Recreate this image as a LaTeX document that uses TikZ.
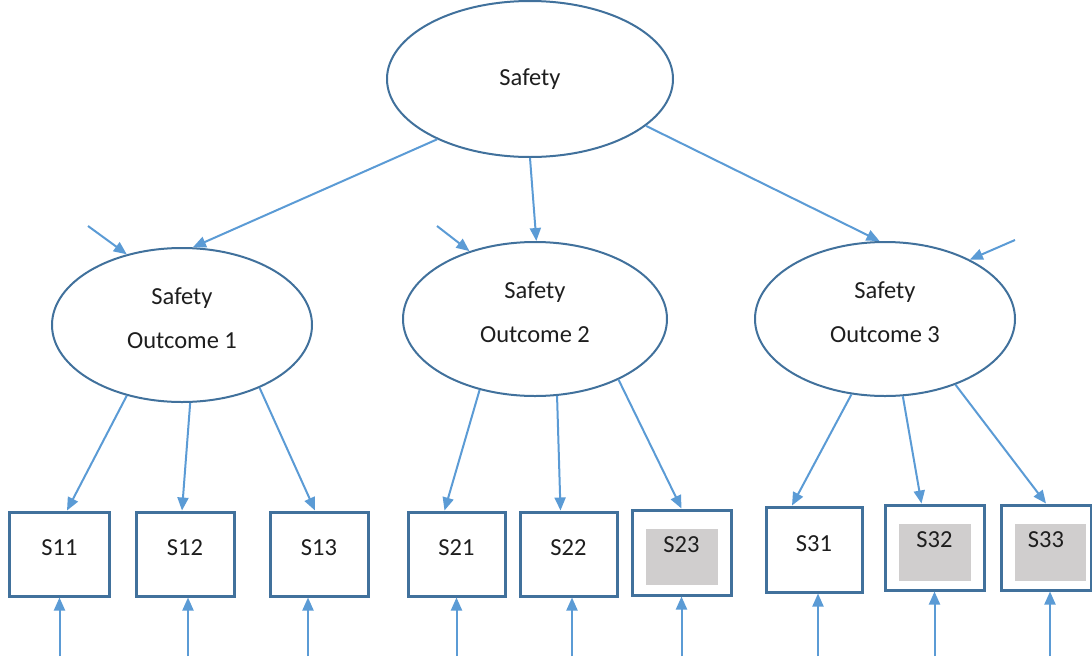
\documentclass[tikz,border=0pt]{standalone}
\usepackage{fontspec}
\setmainfont{Carlito}
\usetikzlibrary{shapes.geometric,arrows.meta,calc}
\definecolor{ellc}{HTML}{41719C}
\definecolor{arrc}{HTML}{5B9BD5}
\definecolor{boxc}{HTML}{41719C}
\definecolor{grayc}{HTML}{D0CECE}
\definecolor{txtc}{HTML}{1E1E1E}
\begin{document}
\begin{tikzpicture}[x=1pt,y=-1pt,
  latent/.style={ellipse,draw=ellc,line width=2pt,inner sep=0pt,align=center,text=txtc,font=\fontsize{24.5}{44}\selectfont},
  outcome/.style={latent,text depth=13pt},
  obs/.style={rectangle,draw=boxc,line width=3pt,inner sep=0pt,minimum height=84pt,text height=16pt,text depth=13pt,text=txtc,font=\fontsize{24.5}{28}\selectfont},
  link/.style={draw=arrc,line width=2pt,-{Triangle[length=13pt,width=11pt]}},
  shade/.style={fill=grayc}]
\useasboundingbox (0,0) rectangle (1092,656);

% latent variables
\node[latent,minimum width=286pt,minimum height=156pt] (top) at (530,79) {Safety};
\node[outcome,minimum width=260pt,minimum height=154pt] (o1) at (182,325) {Safety\\Outcome 1};
\node[outcome,minimum width=264pt,minimum height=154pt] (o2) at (535,319) {Safety\\Outcome 2};
\node[outcome,minimum width=260pt,minimum height=154pt] (o3) at (885,319) {Safety\\Outcome 3};

% gray fills
\fill[shade] (646,529) rectangle (718,585);
\fill[shade] (899,524) rectangle (971,581);
\fill[shade] (1015,524) rectangle (1086,581);

% observed variables
\node[obs,minimum width=100pt] (s11) at (59.5,554) {S11};
\node[obs,minimum width=98pt] (s12) at (185,554) {S12};
\node[obs,minimum width=98pt] (s13) at (319,554) {S13};
\node[obs,minimum width=97pt] (s21) at (456.5,554) {S21};
\node[obs,minimum width=97pt] (s22) at (568.5,554) {S22};
\node[obs,minimum width=99pt,minimum height=85pt,text depth=17pt] (s23) at (681.5,552.5) {S23};
\node[obs,minimum width=96pt,minimum height=85pt] (s31) at (814,549.5) {S31};
\node[obs,minimum width=99pt,minimum height=85pt,text depth=17pt] (s32) at (934.5,547.5) {S32};
\node[obs,minimum width=90pt,minimum height=85pt,text depth=17pt] (s33) at (1046,547.5) {S33};

% top-level paths
\draw[link] (top.-147) -- (o1.82);
\draw[link] (top.-90) -- (o2.89);
\draw[link] (top.-22.5) -- (o3.94);

% disturbance arrows
\coordinate (d1) at (88,226);
\coordinate (d2) at (437,226);
\coordinate (d3) at (1015,240);
\draw[link] (d1) -- (o1.128);
\draw[link] (d2) -- (o2.134);
\draw[link] (d3) -- (o3.35.5);

% loadings
\draw[link] (o1.-128) -- ($(s11.north)+(7.5,0)$);
\draw[link] (o1.-84) -- ($(s12.north)+(-3,0)$);
\draw[link] (o1.-39) -- ($(s13.north)+(-4,0)$);
\draw[link] (o2.-128) -- ($(s21.north)+(-12,0)$);
\draw[link] (o2.-74) -- ($(s22.north)+(-8,0)$);
\draw[link] (o2.-36) -- (s23.north);
\draw[link] (o3.-114) -- ($(s31.north)+(-22,0)$);
\draw[link] (o3.-77) -- ($(s32.north)+(-13,0)$);
\draw[link] (o3.-43.5) -- (s33.north);

% error arrows
\coordinate (e11) at (59.5,656);
\coordinate (e12) at (188,656);
\coordinate (e13) at (308,656);
\coordinate (e21) at (456.5,656);
\coordinate (e22) at (572,656);
\coordinate (e23) at (681.5,656);
\coordinate (e31) at (818,656);
\coordinate (e32) at (934.5,656);
\coordinate (e33) at (1050,656);
\draw[link] (e11) -- (s11.south);
\draw[link] (e12) -- (e12 |- s12.south);
\draw[link] (e13) -- (e13 |- s13.south);
\draw[link] (e21) -- (s21.south);
\draw[link] (e22) -- (e22 |- s22.south);
\draw[link] (e23) -- (s23.south);
\draw[link] (e31) -- (e31 |- s31.south);
\draw[link] (e32) -- (s32.south);
\draw[link] (e33) -- (e33 |- s33.south);
\end{tikzpicture}
\end{document}
